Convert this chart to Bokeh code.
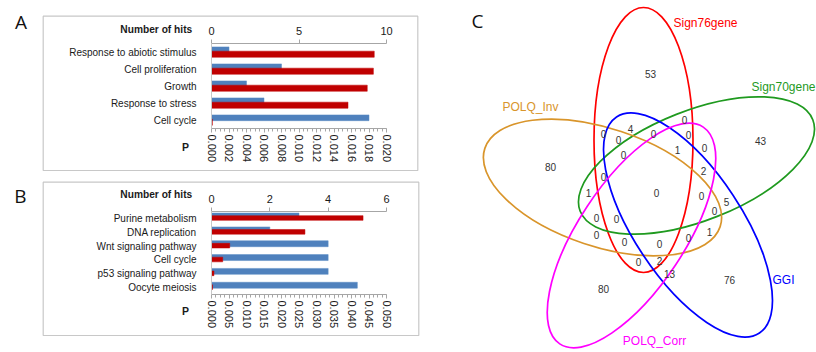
from bokeh.plotting import figure
from bokeh.models import (Range1d, FactorRange, LinearAxis, FixedTicker, NumeralTickFormatter,
                          Label, ColumnDataSource, GridBox)
from bokeh.transform import dodge
from bokeh.layouts import column
from bokeh.embed import file_html
from bokeh.resources import INLINE
from bokeh.core.properties import value
import math

FONT = "Liberation Sans"
BLUE = "#4F81BD"
RED = "#C00000"
AXIS = "#A6A6A6"
TXT = "#1A1A1A"

# ---------------- Panel A data ----------------
a_terms = ["Response to abiotic stimulus", "Cell proliferation", "Growth",
           "Response to stress", "Cell cycle"]
a_hits = [1, 4, 2, 3, 9]
a_pvalues = [0.0186, 0.0185, 0.0178, 0.0156, 0.0001]
a_hits_ticks = [0, 5, 10]
a_p_ticks = [0.000, 0.002, 0.004, 0.006, 0.008, 0.010, 0.012, 0.014, 0.016, 0.018, 0.020]

# ---------------- Panel B data ----------------
b_terms = ["Purine metabolism", "DNA replication", "Wnt signaling pathway",
           "Cell cycle", "p53 signaling pathway", "Oocyte meiosis"]
b_hits = [3, 2, 4, 4, 4, 5]
b_pvalues = [0.0433, 0.0267, 0.0052, 0.0032, 0.0007, 0.0003]
b_hits_ticks = [0, 2, 4, 6]
b_p_ticks = [0.000, 0.005, 0.010, 0.015, 0.020, 0.025, 0.030, 0.035, 0.040, 0.045, 0.050]

# panel decorations (letters, axis titles, frames)
panel_letters = ["A", "B"]
letter_x = [20.5, 20]
letter_y = [21.5, 195]
hits_title_x = [191.7, 191.7]
hits_title_y = [29, 194]
p_title_x = [185, 185]
p_title_y = [146.7, 310.7]
box_left = [42.7, 42.7]
box_right = [417.3, 418.3]
box_top = [15.7, 181.7]
box_bottom = [170, 335]

# ---------------- Panel C data (Venn) ----------------
venn_sets = ["Sign76gene", "Sign70gene", "POLQ_Inv", "GGI", "POLQ_Corr"]
venn_colors = ["#FF0000", "#1F9A1F", "#D9952B", "#0000FF", "#FF00FF"]
venn_cx = [643, 696, 602, 687.5, 631]
venn_cy = [139.5, 165, 187, 224.5, 235]
venn_w = [99, 250, 248, 259, 260]
venn_h = [265, 110, 118, 108, 106]
venn_angle_deg = [0, 21.5, -18.4, -56.5, 56.5]
venn_name_x = [705, 783, 530, 783, 654]
venn_name_y = [22, 86, 106, 279, 340]

region_counts = ["53", "43", "80", "80", "76", "13", "2", "0", "0", "4", "0", "0", "0", "0",
                 "1", "0", "0", "2", "0", "0", "1", "0", "5", "0", "0", "0", "0", "0",
                 "0", "0", "1"]
region_x = [650, 760, 550, 603, 729, 669, 659, 638, 603, 630, 618, 653, 684, 688,
            677, 704, 623, 703, 603, 656, 588, 701, 726, 714, 596, 616, 596, 624,
            659, 688, 709]
region_y = [73, 140, 166, 288, 279, 273, 260, 261.5, 133, 128, 139, 133, 119, 134,
            149, 147, 154, 170, 176, 192, 192, 195, 201, 210, 217, 218, 234, 241,
            243, 237, 231]

FRAME_L, FRAME_R = 211, 386   # page px of the bar-chart frame edges


def no_align(f):
    if "frame_align" in f.properties():
        f.frame_align = False
    return f


def bar_panel(terms, hits, pvals, hits_ticks, p_ticks, p_minor_step,
              page_top, height, frame_top, frame_bottom,
              blue_off, red_off, blue_h, red_h):
    p = figure(width=430, height=height, output_backend="svg", toolbar_location=None,
               y_range=FactorRange(factors=terms[::-1], range_padding=0),
               x_range=Range1d(p_ticks[0], p_ticks[-1]),
               min_border_left=FRAME_L, min_border_right=430 - FRAME_R,
               min_border_top=frame_top - page_top,
               min_border_bottom=page_top + height - frame_bottom)
    no_align(p)
    p.extra_x_ranges = {"hits": Range1d(hits_ticks[0], hits_ticks[-1])}
    p.outline_line_color = None
    p.grid.visible = False
    p.background_fill_color = None
    p.border_fill_color = None

    src = ColumnDataSource(dict(term=terms, hits=hits, p=pvals))
    p.hbar(y=dodge("term", blue_off, range=p.y_range), left=0, right="hits",
           height=blue_h, x_range_name="hits", source=src,
           fill_color=BLUE, line_color="#5B8CC4", line_width=0.5)
    p.hbar(y=dodge("term", red_off, range=p.y_range), left=0, right="p",
           height=red_h, source=src, fill_color=RED, line_color=RED, line_width=0.5)

    # bottom P axis
    n = int(round((p_ticks[-1] - p_ticks[0]) / p_minor_step))
    minor = [p_ticks[0] + i * p_minor_step for i in range(n + 1)]
    xa = p.xaxis[0]
    xa.ticker = FixedTicker(ticks=p_ticks, minor_ticks=minor)
    xa.formatter = NumeralTickFormatter(format="0.000")
    xa.major_label_orientation = "vertical"
    xa.axis_line_color = AXIS
    xa.major_tick_line_color = AXIS
    xa.minor_tick_line_color = AXIS
    xa.major_tick_in = 0
    xa.major_tick_out = 4
    xa.minor_tick_in = 0
    xa.minor_tick_out = 3
    xa.major_label_standoff = 2
    xa.major_label_text_font = FONT
    xa.major_label_text_font_size = "11px"
    xa.major_label_text_color = TXT

    # top hits axis
    ta = LinearAxis(x_range_name="hits", ticker=FixedTicker(ticks=hits_ticks))
    ta.axis_line_color = AXIS
    ta.major_tick_line_color = AXIS
    ta.minor_tick_line_color = None
    ta.major_tick_in = 0
    ta.major_tick_out = 4
    ta.major_label_standoff = 5
    ta.major_label_text_font = FONT
    ta.major_label_text_font_size = "11px"
    ta.major_label_text_color = TXT
    p.add_layout(ta, "above")

    # category axis
    ya = p.yaxis[0]
    ya.axis_line_color = "#C8C8C8"
    ya.major_tick_line_color = None
    ya.minor_tick_line_color = None
    ya.major_label_standoff = 9
    ya.major_label_text_font = FONT
    ya.major_label_text_font_size = "10px"
    ya.major_label_text_color = TXT
    return p


pA = bar_panel(a_terms, a_hits, a_pvalues, a_hits_ticks, a_p_ticks, 0.0005,
               0, 178, 43, 128, 0.13, -0.13, 0.34, 0.36)
pB = bar_panel(b_terms, b_hits, b_pvalues, b_hits_ticks, b_p_ticks, 0.00125,
               178, 172, 211, 294, 0.17, 0.03, 0.43, 0.34)

# background layer under panels A and B: letters, axis titles and panel frames
bg = figure(width=430, height=350, output_backend="svg", toolbar_location=None,
            x_range=Range1d(0, 430), y_range=Range1d(350, 0),
            x_axis_location=None, y_axis_location=None, min_border=0)
no_align(bg)
bg.grid.visible = False
bg.outline_line_color = None
dsrc = ColumnDataSource(dict(letter=panel_letters, lx=letter_x, ly=letter_y,
                             hx=hits_title_x, hy=hits_title_y,
                             px=p_title_x, py=p_title_y,
                             bl=box_left, br=box_right, bt=box_top, bb=box_bottom,
                             ht=["Number of hits"] * 2, pt=["P"] * 2))
bg.quad(left="bl", right="br", top="bt", bottom="bb", source=dsrc,
        fill_color=None, line_color="#C8C8C8", line_width=1.2)
bg.text(x="lx", y="ly", text="letter", source=dsrc, text_align="center",
        text_baseline="middle", text_font=value("Open Sans"), text_font_size="19px",
        text_color="#111111")
bg.text(x="hx", y="hy", text="ht", source=dsrc, text_align="right",
        text_baseline="middle", text_font=value(FONT), text_font_size="10.2px",
        text_font_style="bold", text_color=TXT)
bg.text(x="px", y="py", text="pt", source=dsrc, text_align="center",
        text_baseline="middle", text_font=value(FONT), text_font_size="10.5px",
        text_font_style="bold", text_color=TXT)

# ---------------- Panel C ----------------
pC = figure(width=386, height=350, output_backend="svg", toolbar_location=None,
            x_range=Range1d(430, 816), y_range=Range1d(350, 0),
            x_axis_location=None, y_axis_location=None, min_border=0)
no_align(pC)
pC.grid.visible = False
pC.outline_line_color = None

esrc = ColumnDataSource(dict(x=venn_cx, y=venn_cy, w=venn_w, h=venn_h,
                             a=[math.radians(d) for d in venn_angle_deg],
                             c=venn_colors, name=venn_sets,
                             nx=venn_name_x, ny=venn_name_y))
pC.ellipse(x="x", y="y", width="w", height="h", angle="a", source=esrc,
           fill_color=None, line_color="c", line_width=1.7)
pC.text(x="nx", y="ny", text="name", source=esrc, text_color="c",
        text_align="center", text_baseline="middle",
        text_font=value(FONT), text_font_size="12px")
rsrc = ColumnDataSource(dict(x=region_x, y=region_y, t=region_counts))
pC.text(x="x", y="y", text="t", source=rsrc, text_color="#333333",
        text_align="center", text_baseline="middle",
        text_font=value(FONT), text_font_size="10px")
pC.add_layout(Label(x=477, y=20, text="C", text_align="center", text_baseline="middle",
                    text_font="Open Sans", text_font_size="19px", text_color="#111111"))

layout = GridBox(children=[(column(bg), 0, 0), (column(pA, pB), 0, 0),
                           (column(pC), 0, 1)])
open("out.html", "w").write(file_html(layout, INLINE))
